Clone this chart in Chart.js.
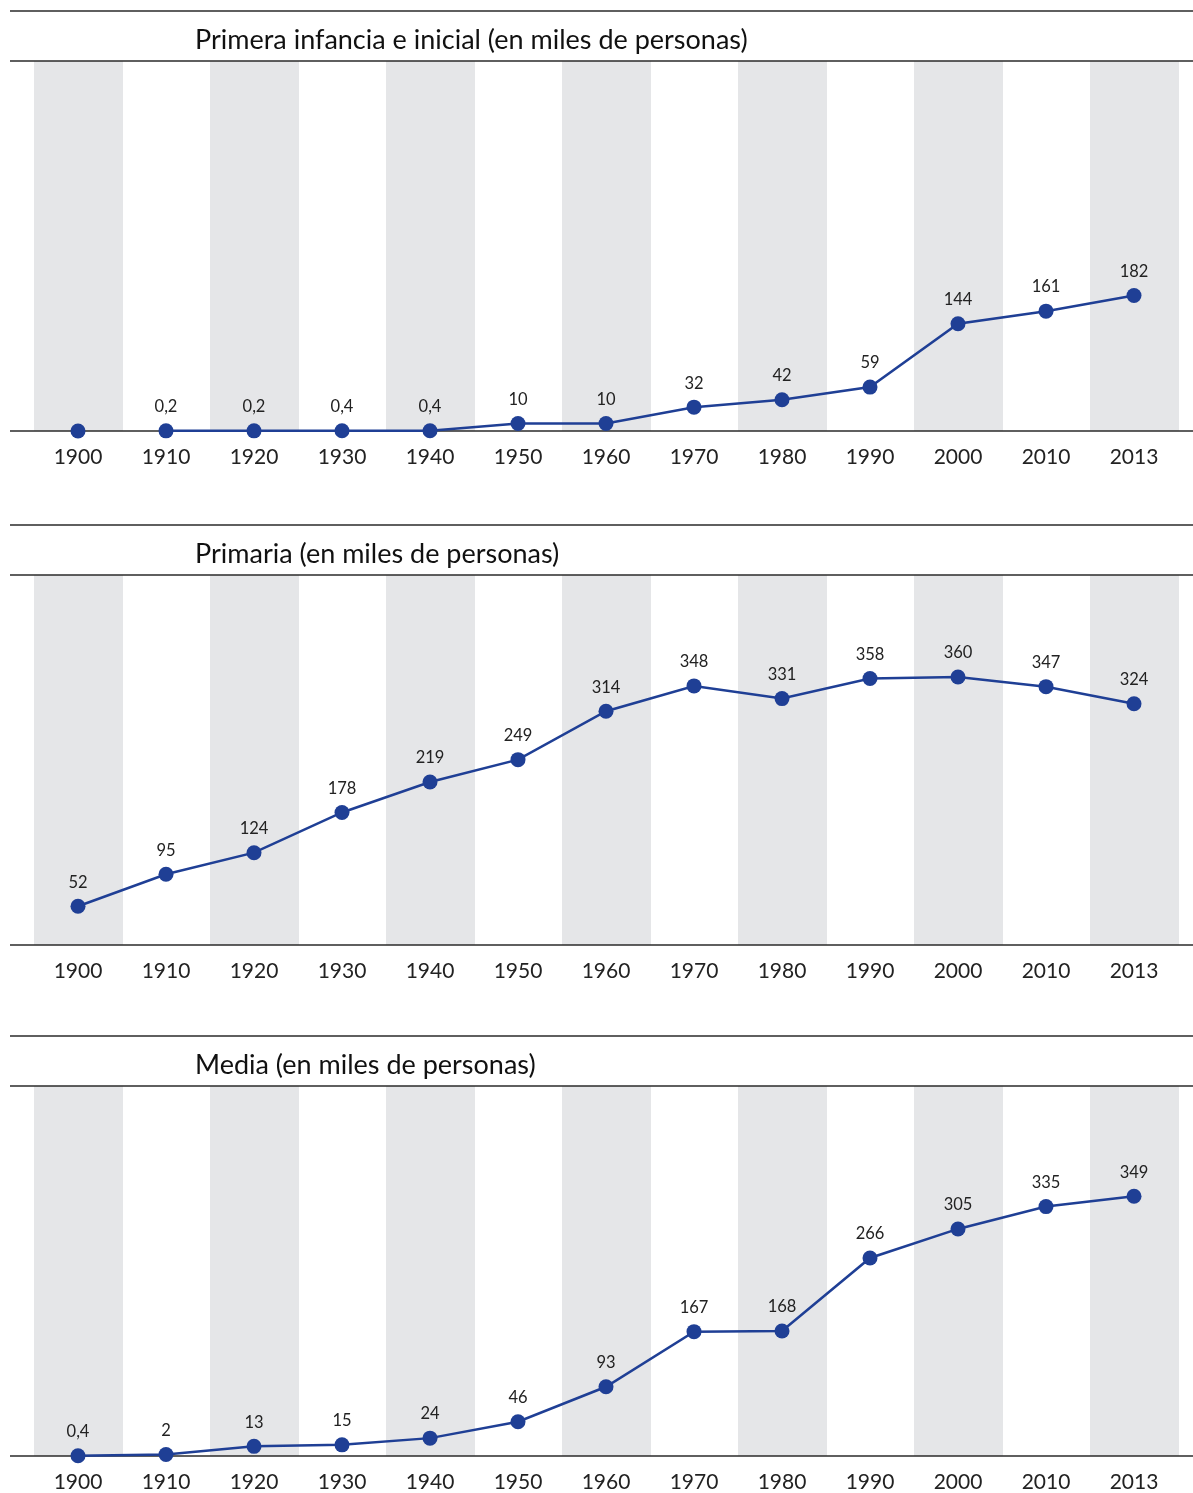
<!DOCTYPE html>
<html lang="es">
<head>
<meta charset="utf-8">
<script src="https://cdn.jsdelivr.net/npm/chart.js@4/dist/chart.umd.min.js"></script>
<style>
body{margin:0;background:#fff}
canvas{display:block}
</style>
</head>
<body>
<canvas id="inicial" width="1193" height="514"></canvas>
<canvas id="primaria" width="1193" height="511"></canvas>
<canvas id="media" width="1193" height="468"></canvas>
<script>
const anios = ['1900','1910','1920','1930','1940','1950','1960','1970','1980','1990','2000','2010','2013'];
const inicial = [0, 0.2, 0.2, 0.4, 0.4, 10, 10, 32, 42, 59, 144, 161, 182];
const primaria = [52, 95, 124, 178, 219, 249, 314, 348, 331, 358, 360, 347, 324];
const media = [0.4, 2, 13, 15, 24, 46, 93, 167, 168, 266, 305, 335, 349];

const titulos = [
  'Primera infancia e inicial (en miles de personas)',
  'Primaria (en miles de personas)',
  'Media (en miles de personas)'
];

const azul = '#1f3f95';
const gris = '#e5e6e8';
const negro = '#2a2a2a';
const fuente = 'Lato, "Open Sans", sans-serif';

// bandas grises alternas, lineas horizontales y titulo
const marco = {
  id: 'marco',
  beforeDatasetsDraw(chart, args, opts) {
    const {ctx, chartArea: a, scales: {x}} = chart;
    const paso = x.getPixelForValue(1) - x.getPixelForValue(0);
    ctx.save();
    ctx.fillStyle = gris;
    anios.forEach((_, i) => {
      if (i % 2 === 0) {
        const c = x.getPixelForValue(i);
        ctx.fillRect(c - paso / 2, a.top, paso + 1, a.bottom - a.top);
      }
    });
    ctx.strokeStyle = negro;
    ctx.lineWidth = 1.5;
    [11, a.top, a.bottom].forEach(y => {
      ctx.beginPath();
      ctx.moveTo(10, y);
      ctx.lineTo(chart.width, y);
      ctx.stroke();
    });
    ctx.fillStyle = '#111';
    ctx.font = '27px ' + fuente;
    ctx.textBaseline = 'middle';
    ctx.textAlign = 'left';
    ctx.fillText(opts.titulo, 195, 40);
    ctx.restore();
  },
  afterDatasetsDraw(chart, args, opts) {
    const {ctx} = chart;
    const meta = chart.getDatasetMeta(0);
    const vals = chart.data.datasets[0].data;
    ctx.save();
    ctx.fillStyle = '#222';
    ctx.font = '16.5px ' + fuente;
    ctx.textAlign = 'center';
    ctx.textBaseline = 'middle';
    meta.data.forEach((p, i) => {
      if (opts.sinEtiqueta.includes(i)) return;
      ctx.fillText(String(vals[i]).replace('.', ','), p.x, p.y - 24);
    });
    ctx.restore();
  }
};

function panel(id, valores, titulo, sinEtiqueta) {
  const canvas = document.getElementById(id);
  const h = canvas.height;
  new Chart(canvas, {
    type: 'line',
    data: {
      labels: anios,
      datasets: [{
        data: valores,
        borderColor: azul,
        borderWidth: 2.5,
        pointRadius: 7.5,
        pointBackgroundColor: azul,
        pointBorderWidth: 0,
        clip: false,
        segment: {
          borderColor: c => sinEtiqueta.includes(c.p0DataIndex) ? 'rgba(0,0,0,0)' : azul
        }
      }]
    },
    options: {
      responsive: false,
      animation: false,
      layout: {padding: {top: 61, left: 78, right: 59, bottom: 0}},
      plugins: {
        legend: {display: false},
        tooltip: {enabled: false},
        marco: {titulo: titulo, sinEtiqueta: sinEtiqueta}
      },
      scales: {
        x: {
          grid: {display: false, drawTicks: false},
          border: {display: false},
          ticks: {color: '#222', font: {family: fuente, size: 21}, padding: 14, maxRotation: 0, autoSkip: false},
          afterFit: s => { s.height = h - 431; }
        },
        y: {display: false, min: 0, max: 497}
      }
    },
    plugins: [marco]
  });
}

panel('inicial', inicial, titulos[0], [0]);
panel('primaria', primaria, titulos[1], []);
panel('media', media, titulos[2], []);
</script>
</body>
</html>
